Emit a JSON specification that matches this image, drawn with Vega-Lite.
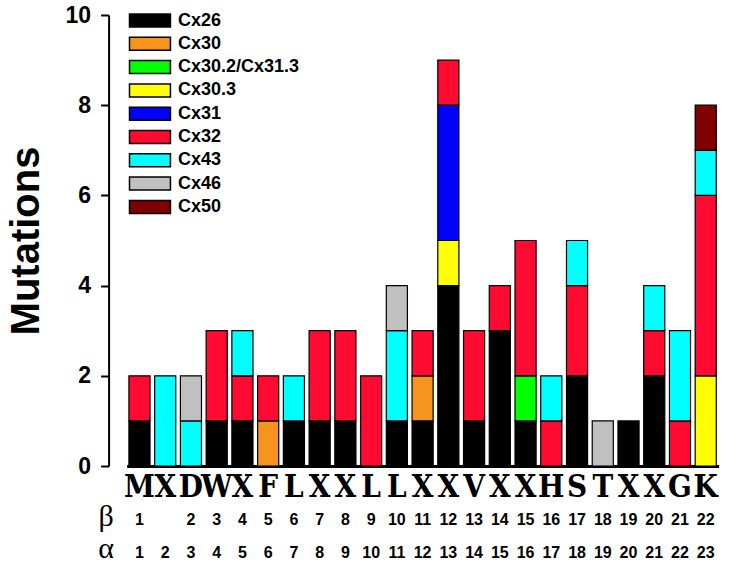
{
  "$schema": "https://vega.github.io/schema/vega-lite/v6.json",
  "width": 592,
  "height": 451,
  "autosize": {"type": "none"},
  "padding": {"left": 126.6, "top": 15, "right": 10.4, "bottom": 99},
  "background": "white",
  "config": {"view": {"stroke": null}, "font": "Liberation Sans"},
  "datasets": {
    "mut": [
      {"alpha": 1, "connexin": "Cx26", "count": 1},
      {"alpha": 1, "connexin": "Cx32", "count": 1},
      {"alpha": 2, "connexin": "Cx43", "count": 2},
      {"alpha": 3, "connexin": "Cx43", "count": 1},
      {"alpha": 3, "connexin": "Cx46", "count": 1},
      {"alpha": 4, "connexin": "Cx26", "count": 1},
      {"alpha": 4, "connexin": "Cx32", "count": 2},
      {"alpha": 5, "connexin": "Cx26", "count": 1},
      {"alpha": 5, "connexin": "Cx32", "count": 1},
      {"alpha": 5, "connexin": "Cx43", "count": 1},
      {"alpha": 6, "connexin": "Cx30", "count": 1},
      {"alpha": 6, "connexin": "Cx32", "count": 1},
      {"alpha": 7, "connexin": "Cx26", "count": 1},
      {"alpha": 7, "connexin": "Cx43", "count": 1},
      {"alpha": 8, "connexin": "Cx26", "count": 1},
      {"alpha": 8, "connexin": "Cx32", "count": 2},
      {"alpha": 9, "connexin": "Cx26", "count": 1},
      {"alpha": 9, "connexin": "Cx32", "count": 2},
      {"alpha": 10, "connexin": "Cx32", "count": 2},
      {"alpha": 11, "connexin": "Cx26", "count": 1},
      {"alpha": 11, "connexin": "Cx43", "count": 2},
      {"alpha": 11, "connexin": "Cx46", "count": 1},
      {"alpha": 12, "connexin": "Cx26", "count": 1},
      {"alpha": 12, "connexin": "Cx30", "count": 1},
      {"alpha": 12, "connexin": "Cx32", "count": 1},
      {"alpha": 13, "connexin": "Cx26", "count": 4},
      {"alpha": 13, "connexin": "Cx30.3", "count": 1},
      {"alpha": 13, "connexin": "Cx31", "count": 3},
      {"alpha": 13, "connexin": "Cx32", "count": 1},
      {"alpha": 14, "connexin": "Cx26", "count": 1},
      {"alpha": 14, "connexin": "Cx32", "count": 2},
      {"alpha": 15, "connexin": "Cx26", "count": 3},
      {"alpha": 15, "connexin": "Cx32", "count": 1},
      {"alpha": 16, "connexin": "Cx26", "count": 1},
      {"alpha": 16, "connexin": "Cx30.2/Cx31.3", "count": 1},
      {"alpha": 16, "connexin": "Cx32", "count": 3},
      {"alpha": 17, "connexin": "Cx32", "count": 1},
      {"alpha": 17, "connexin": "Cx43", "count": 1},
      {"alpha": 18, "connexin": "Cx26", "count": 2},
      {"alpha": 18, "connexin": "Cx32", "count": 2},
      {"alpha": 18, "connexin": "Cx43", "count": 1},
      {"alpha": 19, "connexin": "Cx46", "count": 1},
      {"alpha": 20, "connexin": "Cx26", "count": 1},
      {"alpha": 21, "connexin": "Cx26", "count": 2},
      {"alpha": 21, "connexin": "Cx32", "count": 1},
      {"alpha": 21, "connexin": "Cx43", "count": 1},
      {"alpha": 22, "connexin": "Cx32", "count": 1},
      {"alpha": 22, "connexin": "Cx43", "count": 2},
      {"alpha": 23, "connexin": "Cx30.3", "count": 2},
      {"alpha": 23, "connexin": "Cx32", "count": 4},
      {"alpha": 23, "connexin": "Cx43", "count": 1},
      {"alpha": 23, "connexin": "Cx50", "count": 1}
    ],
    "sites": [
      {"alpha": 1, "letter": "M", "beta": "1"},
      {"alpha": 2, "letter": "X", "beta": ""},
      {"alpha": 3, "letter": "D", "beta": "2"},
      {"alpha": 4, "letter": "W", "beta": "3"},
      {"alpha": 5, "letter": "X", "beta": "4"},
      {"alpha": 6, "letter": "F", "beta": "5"},
      {"alpha": 7, "letter": "L", "beta": "6"},
      {"alpha": 8, "letter": "X", "beta": "7"},
      {"alpha": 9, "letter": "X", "beta": "8"},
      {"alpha": 10, "letter": "L", "beta": "9"},
      {"alpha": 11, "letter": "L", "beta": "10"},
      {"alpha": 12, "letter": "X", "beta": "11"},
      {"alpha": 13, "letter": "X", "beta": "12"},
      {"alpha": 14, "letter": "V", "beta": "13"},
      {"alpha": 15, "letter": "X", "beta": "14"},
      {"alpha": 16, "letter": "X", "beta": "15"},
      {"alpha": 17, "letter": "H", "beta": "16"},
      {"alpha": 18, "letter": "S", "beta": "17"},
      {"alpha": 19, "letter": "T", "beta": "18"},
      {"alpha": 20, "letter": "X", "beta": "19"},
      {"alpha": 21, "letter": "X", "beta": "20"},
      {"alpha": 22, "letter": "G", "beta": "21"},
      {"alpha": 23, "letter": "K", "beta": "22"}
    ]
  },
  "layer": [
    {
      "data": {"name": "mut"},
      "mark": {"type": "bar", "stroke": "black", "strokeWidth": 1.2},
      "encoding": {
        "x": {
          "field": "alpha",
          "type": "ordinal",
          "scale": {"paddingInner": 0.18, "paddingOuter": 0.09},
          "axis": {
            "ticks": false,
            "tickSize": 0,
            "domainWidth": 3,
            "domainColor": "black",
            "labelAngle": 0,
            "labelFont": "Liberation Sans",
            "labelFontWeight": "bold",
            "labelFontSize": 16,
            "labelColor": "black",
            "labelBaseline": "alphabetic",
            "labelPadding": 91,
            "labelOverlap": false,
            "title": ["β", "α"],
            "titleFont": "Liberation Serif",
            "titleFontSize": 30,
            "titleFontWeight": "normal",
            "titleColor": "black",
            "titleLineHeight": 32,
            "titleAngle": 0,
            "titleAlign": "center",
            "titleBaseline": "alphabetic",
            "titleX": -21,
            "titleY": 59
          }
        },
        "y": {
          "field": "count",
          "type": "quantitative",
          "stack": "zero",
          "scale": {"domain": [0, 10], "nice": false},
          "axis": {
            "values": [0, 2, 4, 6, 8, 10],
            "offset": 18,
            "grid": false,
            "domainWidth": 2,
            "domainColor": "black",
            "tickColor": "black",
            "tickWidth": 2,
            "tickSize": 8,
            "labelFont": "Liberation Sans",
            "labelFontWeight": "bold",
            "labelFontSize": 23,
            "labelColor": "black",
            "labelPadding": 10,
            "title": "Mutations",
            "titleFont": "Liberation Sans",
            "titleFontSize": 40,
            "titleFontWeight": "bold",
            "titleColor": "black",
            "titlePadding": 19
          }
        },
        "color": {
          "field": "connexin",
          "type": "nominal",
          "scale": {
            "domain": ["Cx26", "Cx30", "Cx30.2/Cx31.3", "Cx30.3", "Cx31", "Cx32", "Cx43", "Cx46", "Cx50"],
            "range": ["#000000", "#F7941E", "#00FF00", "#FFFF00", "#0000FF", "#FF0A30", "#00FFFF", "#C0C0C0", "#800000"]
          },
          "legend": {
            "orient": "none",
            "legendX": 0.4,
            "legendY": -3.5,
            "title": null,
            "padding": 0,
            "symbolType": "M-1,-1H5.3V1H-1Z",
            "symbolSize": 169,
            "symbolStrokeColor": "black",
            "symbolStrokeWidth": 1.5,
            "symbolOpacity": 1,
            "labelFont": "Liberation Sans",
            "labelFontWeight": "bold",
            "labelFontSize": 18,
            "labelColor": "black",
            "labelOffset": 33,
            "labelLimit": 300,
            "rowPadding": 3.3
          }
        },
        "order": {"field": "connexin", "sort": "ascending"}
      }
    },
    {
      "data": {"name": "sites"},
      "mark": {"type": "text", "font": "DejaVu Serif Condensed", "fontWeight": "bold", "fontSize": 31, "baseline": "alphabetic", "dy": 31, "color": "black"},
      "encoding": {
        "x": {"field": "alpha", "type": "ordinal"},
        "y": {"datum": 0, "type": "quantitative"},
        "text": {"field": "letter"}
      }
    },
    {
      "data": {"name": "sites"},
      "mark": {"type": "text", "font": "Liberation Sans", "fontWeight": "bold", "fontSize": 16, "baseline": "alphabetic", "dy": 59, "color": "black"},
      "encoding": {
        "x": {"field": "alpha", "type": "ordinal"},
        "y": {"datum": 0, "type": "quantitative"},
        "text": {"field": "beta"}
      }
    }
  ]
}
